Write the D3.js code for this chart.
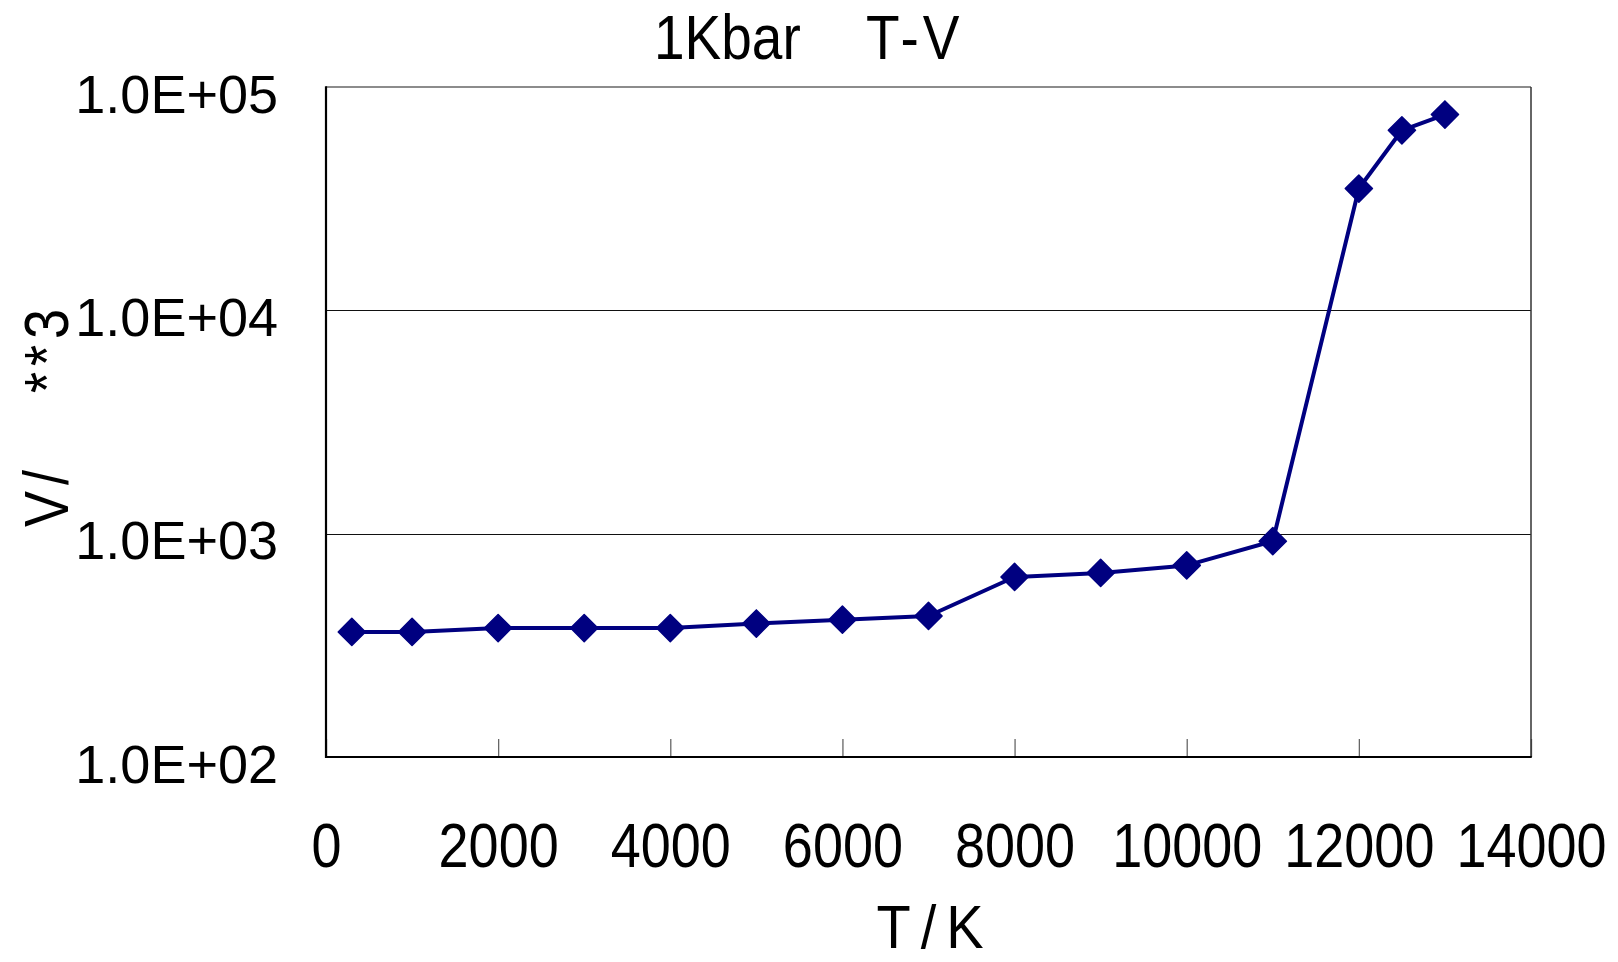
<!DOCTYPE html>
<html>
<head>
<meta charset="utf-8">
<script src="https://cdn.jsdelivr.net/npm/d3@7"></script>
<style>
  html, body { margin: 0; padding: 0; background: #fff; }
  svg { display: block; }
  text { font-family: "Liberation Sans", Arial, sans-serif; fill: #000; }
</style>
</head>
<body>
<svg id="chart" width="1618" height="962"></svg>
<script>
// Temperature (K) and volume (Å^3) at 1 kbar
const temperature = [300, 1000, 2000, 3000, 4000, 5000, 6000, 7000, 8000, 9000, 10000, 11000, 12000, 12500, 13000];
const volume = [363, 363, 378, 378, 378, 396, 412, 428, 640, 667, 721, 925, 35100, 64000, 75300];

const xTickValues = [0, 2000, 4000, 6000, 8000, 10000, 12000, 14000];
const yTickValues = [1e2, 1e3, 1e4, 1e5];
const yTickLabels = ["1.0E+02", "1.0E+03", "1.0E+04", "1.0E+05"];

const titleParts = ["1Kbar", "T-V"];
const xTitle = "T/K";
const yTitleParts = ["V/", "**3"];

const plot = { left: 326, top: 87, right: 1531, bottom: 757 };

const svg = d3.select("#chart");

const x = d3.scaleLinear().domain([0, 14000]).range([plot.left, plot.right]);
const y = d3.scaleLog().domain([1e2, 1e5]).range([plot.bottom, plot.top]);

// horizontal gridlines at each inner decade
svg.append("g")
  .selectAll("line")
  .data(yTickValues.filter(v => v > 1e2 && v < 1e5))
  .join("line")
  .attr("x1", plot.left).attr("x2", plot.right)
  .attr("y1", d => Math.round(y(d)) + 0.5).attr("y2", d => Math.round(y(d)) + 0.5)
  .attr("stroke", "#111").attr("stroke-width", 1.2);

// x axis: inside ticks, labels below
const xAxis = svg.append("g")
  .attr("transform", `translate(0,${plot.bottom})`)
  .call(d3.axisBottom(x).tickValues(xTickValues).tickFormat(d3.format("d"))
    .tickSizeInner(-18).tickSizeOuter(0));
xAxis.select(".domain").remove();
xAxis.selectAll(".tick line").attr("stroke", "#666").attr("stroke-width", 1.3);
xAxis.selectAll(".tick text")
  .attr("y", 0).attr("dy", 0)
  .attr("transform", "translate(0,110) scale(1,1.15)")
  .style("font-size", "54px")
  .attr("text-anchor", "middle");

// y axis labels
const yAxis = svg.append("g")
  .attr("transform", `translate(${plot.left},0)`)
  .call(d3.axisLeft(y).tickValues(yTickValues)
    .tickFormat((d, i) => yTickLabels[i]).tickSize(0).tickPadding(48));
yAxis.select(".domain").remove();
yAxis.selectAll(".tick text")
  .attr("dy", 0)
  .attr("y", 0)
  .attr("transform", "translate(0,25)")
  .style("font-size", "54px")
  .attr("text-anchor", "end");

// plot frame
svg.append("line").attr("x1", plot.left).attr("x2", plot.right)
  .attr("y1", plot.top).attr("y2", plot.top)
  .attr("stroke", "#666").attr("stroke-width", 1.5);
svg.append("line").attr("x1", plot.right).attr("x2", plot.right)
  .attr("y1", plot.top).attr("y2", plot.bottom)
  .attr("stroke", "#333").attr("stroke-width", 1.5);
svg.append("line").attr("x1", plot.left).attr("x2", plot.left)
  .attr("y1", plot.top - 0.75).attr("y2", plot.bottom + 1)
  .attr("stroke", "#000").attr("stroke-width", 2.2);
svg.append("line").attr("x1", plot.left - 1).attr("x2", plot.right + 0.75)
  .attr("y1", plot.bottom).attr("y2", plot.bottom)
  .attr("stroke", "#000").attr("stroke-width", 2.2);

// data series
const pts = temperature.map((t, i) => [t, volume[i]]);
const navy = "#000080";

svg.append("path")
  .datum(pts)
  .attr("fill", "none")
  .attr("stroke", navy)
  .attr("stroke-width", 4)
  .attr("stroke-linejoin", "round")
  .attr("d", d3.line().x(d => x(d[0])).y(d => y(d[1])));

const diamond = d3.symbol(d3.symbolSquare, 370)();
svg.append("g")
  .selectAll("path")
  .data(pts)
  .join("path")
  .attr("d", diamond)
  .attr("transform", d => `translate(${x(d[0])},${y(d[1])}) rotate(45)`)
  .attr("fill", navy)
  .attr("stroke", navy)
  .attr("stroke-width", 1.5)
  .attr("stroke-linejoin", "round");

// chart title
const title = svg.append("text")
  .attr("transform", "translate(0,59) scale(1,1.15)")
  .style("font-size", "55px");
title.append("tspan").attr("x", 654).text(titleParts[0]);
title.append("tspan").attr("x", 866).style("letter-spacing", "4px").text(titleParts[1]);

// x axis title
svg.append("text")
  .attr("transform", "translate(935,948) scale(1,1.1)")
  .attr("text-anchor", "middle")
  .style("font-size", "56px")
  .style("letter-spacing", "10px")
  .text(xTitle);

// y axis title (rotated)
const yt = svg.append("text")
  .attr("transform", "translate(68,527) rotate(-90) scale(1,1.15)")
  .style("font-size", "54px")
  .style("letter-spacing", "6px");
yt.append("tspan").attr("x", 0).text(yTitleParts[0]);
yt.append("tspan").attr("x", 134).text(yTitleParts[1]);
</script>
</body>
</html>
